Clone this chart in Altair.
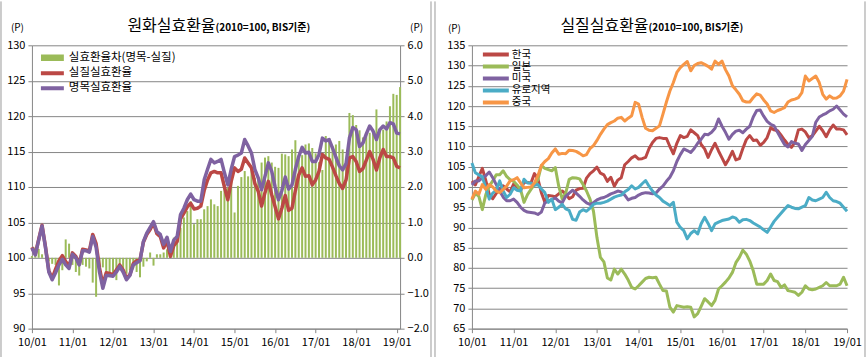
import altair as alt
import pandas as pd

FONT = "Noto Sans CJK KR"
RED, GREEN, PURPLE, TEAL, ORANGE = "#BB4845", "#9BBB59", "#7F62A1", "#4BACC6", "#F79646"
FRAME = "#9A9A9A"

left_title = ["원화실효환율", "(2010=100, BIS기준)"]
right_title = ["실질실효환율", "(2010=100, BIS기준)"]
bar_name = "실효환율차(명목-실질)"
left_series = ["실질실효환율", "명목실효환율"]
right_series = ["한국", "일본", "미국", "유로지역", "중국"]

years = list(range(2010, 2020))
months = [f"{y % 100:02d}/{m:02d}" for y in years for m in range(1, 13)]
left_months = months[:110]
right_months = months[:109]
year_ticks = [f"{y % 100:02d}/01" for y in years]
left_y_ticks = [90, 95, 100, 105, 110, 115, 120, 125, 130]
bar_ticks = [-2, -1, 0, 1, 2, 3, 4, 5, 6]
right_y_ticks = [65, 70, 75, 80, 85, 90, 95, 100, 105, 110, 115, 120, 125, 130, 135]

nominal = [
    101.4, 100.4, 102.5, 104.5, 101.5, 98.0, 96.9, 97.9, 99.0, 99.8, 99.0, 98.5,
    100.5, 100.0, 99.0, 101.0, 101.0, 100.8, 103.0, 101.5, 98.0, 95.7, 97.5, 97.5,
    97.4, 98.0, 98.8, 98.0, 96.9, 97.5, 99.0, 99.3, 99.6, 102.3, 103.5, 104.3,
    105.1, 103.7, 103.3, 101.9, 102.9, 100.9, 102.5, 103.0, 106.1, 107.0, 108.2, 109.0,
    108.2, 108.0, 108.0, 111.0, 112.5, 113.9, 113.4, 113.6, 113.9, 112.0, 110.3, 112.5,
    114.3, 114.5, 114.8, 116.7, 115.8, 114.8, 112.5, 111.3, 109.6, 111.5, 113.4, 112.2,
    110.0, 108.2, 109.5, 111.4, 109.7, 110.3, 112.5, 114.3, 115.6, 114.8, 114.9, 113.6,
    113.6, 114.6, 116.9, 116.5, 116.7, 115.5, 114.2, 113.0, 112.4, 113.3, 116.9, 118.4,
    118.1, 115.7, 116.2, 117.5, 118.6, 117.9, 116.7, 118.1, 118.6, 118.2, 119.1, 118.9,
    117.6, 117.5,
]
real = [
    101.5, 100.5, 102.6, 104.6, 101.6, 98.2, 97.1, 98.4, 99.6, 100.3, 99.5, 98.8,
    100.7, 100.2, 99.1, 101.2, 101.1, 101.0, 103.3, 102.0, 98.6, 96.2, 97.9, 97.8,
    97.6, 98.3, 99.0, 98.3, 97.1, 97.6, 99.2, 99.6, 99.7, 102.2, 103.3, 104.0,
    104.9, 103.4, 103.0, 101.4, 102.4, 100.2, 101.7, 102.3, 105.5, 106.3, 107.2, 107.7,
    106.9, 107.0, 107.3, 109.5, 111.0, 112.0, 112.2, 112.0, 112.0, 110.0, 108.2, 110.8,
    112.7, 112.2, 112.5, 114.1, 113.4, 112.7, 110.5, 109.4, 107.3, 109.2, 110.8, 108.9,
    107.2, 105.5, 107.0, 108.8, 106.7, 107.0, 109.5, 111.7, 112.7, 111.5, 111.6, 110.3,
    111.0, 112.2, 114.6, 114.1, 113.9, 112.8, 111.6, 110.5, 109.8, 111.0, 114.1, 114.3,
    113.6, 112.2, 112.6, 113.8, 115.0, 113.9, 112.4, 114.1, 115.3, 114.3, 114.3, 114.1,
    112.9, 112.7,
]
gap = [
    0.05, 0.3, 0.25, 0.1, 0.0, -0.1, -0.17, -0.2, -0.78, -0.35, 0.52, 0.4,
    -0.2, -0.4, -0.5, -0.2, -0.25, -0.3, -0.7, -1.1, -0.45, -0.27, -0.5, -0.55,
    -0.54, -0.63, -0.35, -0.3, -0.45, -0.35, -0.3, -0.4, -0.55, -0.25, -0.1, 0.15,
    -0.22, 0.1, 0.1, 0.15, 0.24, 0.34, 0.57, 0.57, 0.85, 1.14, 1.32, 1.6,
    0.95, 1.09, 1.09, 1.37, 1.46, 1.65, 1.51, 1.46, 1.89, 2.08, 1.98, 2.26,
    1.28, 2.03, 2.28, 2.45, 2.3, 2.5, 2.26, 2.2, 2.69, 2.83, 2.87, 2.69,
    2.57, 2.54, 2.94, 2.92, 2.87, 3.06, 3.32, 2.9, 2.9, 3.2, 3.23, 3.1,
    2.95, 2.7, 2.48, 3.44, 3.3, 3.15, 3.2, 3.3, 3.06, 2.7, 4.09, 4.03,
    3.75, 3.6, 3.4, 3.55, 3.53, 3.6, 4.19, 3.55, 3.62, 3.85, 4.28, 4.63,
    4.6, 4.82,
]

korea = real[:109]
japan = [
    96.8, 98.4, 97.7, 94.4, 98.1, 100.2, 101.5, 103.0, 103.0, 104.0, 102.6, 101.8,
    101.4, 100.5, 99.4, 96.2, 98.1, 99.4, 100.6, 101.8, 105.3, 104.6, 104.3, 104.0,
    104.8, 100.2, 97.0, 98.5, 101.9, 102.3, 102.2, 102.0, 100.6, 99.0, 97.0, 94.0,
    87.5, 82.6, 81.5, 77.5, 77.0, 79.7, 78.5, 79.7, 78.5, 77.0, 75.2, 74.8,
    75.6, 76.5, 77.4, 77.7, 77.6, 77.7, 76.0, 74.4, 74.3, 70.3, 69.1, 70.7,
    70.5, 70.3, 70.4, 70.3, 67.9, 68.7, 70.5, 72.4, 71.6, 70.7, 72.0, 74.8,
    75.6, 76.5, 77.5, 78.9, 81.3, 82.6, 84.4, 83.4, 81.7, 79.3, 76.0, 76.0,
    76.0, 76.9, 78.5, 76.9, 76.6, 75.2, 75.8, 74.4, 74.2, 74.0, 73.2, 74.0,
    75.6, 74.8, 74.6, 74.8, 75.2, 75.6, 76.4, 75.6, 75.6, 75.6, 76.0, 77.7,
    75.6,
]
usa = [
    100.5, 101.5, 101.5, 102.3, 102.8, 103.7, 102.3, 100.6, 99.0, 97.5, 96.6, 96.6,
    97.0, 96.2, 95.0, 94.2, 93.8, 93.7, 93.6, 93.2, 93.8, 96.1, 96.5, 96.9,
    97.3, 96.5, 96.1, 97.7, 98.5, 99.2, 98.5, 97.7, 96.8, 96.1, 95.7, 96.1,
    96.8, 97.2, 97.4, 97.8, 98.3, 98.6, 99.0, 98.8, 98.0, 96.8, 97.2, 97.4,
    98.0, 98.4, 98.6, 98.5, 98.3, 98.5, 99.5, 100.2, 101.4, 102.4, 104.0, 106.3,
    108.0, 109.4, 109.0, 108.5, 109.5, 110.8, 111.8, 113.0, 112.9, 113.5, 114.5, 116.8,
    115.0, 113.5, 111.8, 113.0, 113.8, 114.0, 113.4, 114.3, 115.0, 117.3, 118.9, 119.0,
    117.5, 116.2, 115.5, 115.1, 113.5, 112.0, 110.5, 109.9, 111.2, 110.8, 110.6, 109.0,
    110.5, 111.5, 112.5, 116.0, 117.3, 117.8, 118.2, 118.8, 119.2, 120.0, 119.0, 118.0,
    117.3,
]
euro = [
    105.9, 103.5, 103.0, 102.5, 99.8, 97.0, 98.5, 99.2, 101.5, 99.0, 97.4, 98.2,
    99.8, 99.2, 99.0, 101.9, 101.0, 101.0, 100.4, 100.6, 99.5, 98.6, 96.2, 97.0,
    94.4, 95.0, 95.7, 94.6, 94.2, 92.0, 91.8, 93.8, 94.4, 94.0, 94.8, 95.7,
    96.0, 96.0, 96.2, 96.5, 97.0, 97.5, 97.8, 98.0, 98.8, 99.4, 100.3, 99.5,
    99.9, 100.8, 101.6, 100.2, 99.0, 98.0, 97.4, 96.5, 96.0, 95.4, 96.2, 91.3,
    90.0, 89.2, 87.2, 88.5, 89.2, 88.4, 90.9, 92.5, 91.0, 89.2, 90.9, 91.3,
    91.7, 91.9, 92.1, 92.6, 92.3, 91.3, 91.9, 92.0, 91.7, 91.1, 90.6, 90.1,
    89.4, 88.8, 90.1, 91.5, 92.5, 93.5, 94.5, 95.4, 95.0, 94.7, 94.6, 95.0,
    95.4, 97.4, 96.8, 96.6, 97.0, 97.4, 98.7, 97.4, 96.6, 96.4, 96.0, 95.0,
    94.0,
]
china = [
    97.0, 99.0, 98.2, 100.6, 99.4, 100.6, 100.0, 99.0, 98.6, 99.4, 100.2, 101.5,
    101.8, 102.3, 101.0, 99.8, 99.9, 100.0, 101.0, 102.8, 105.3, 106.3, 107.0, 108.4,
    109.4, 108.1, 108.3, 108.2, 109.1, 109.0, 108.8, 108.3, 107.7, 108.0, 109.5, 110.2,
    111.5, 113.0, 114.3, 115.4, 115.9, 116.3, 117.0, 117.2, 116.3, 117.0, 117.6, 120.9,
    120.5, 117.2, 114.5, 114.0, 113.9, 114.5, 115.1, 118.0, 121.0, 123.7, 125.8, 128.3,
    129.5, 130.3, 131.0, 128.7, 130.0, 130.5, 130.7, 130.3, 129.8, 129.1, 131.1, 130.3,
    131.1, 129.0, 127.4, 125.0, 124.0, 122.9, 121.3, 121.0, 121.0, 122.1, 123.0, 122.7,
    121.5, 120.5, 118.8, 118.4, 118.9, 119.2, 119.6, 121.0, 121.5, 121.7, 122.1, 123.3,
    127.4, 126.2, 126.8, 127.4, 125.8, 122.9, 121.7, 122.5, 121.9, 122.0, 122.5, 123.7,
    126.6,
]

# ---------- tables ----------
df_bar = pd.DataFrame({"month": left_months, "gap": gap, "kind": bar_name})
df_left = pd.DataFrame({
    "month": left_months * 2,
    "value": real + nominal,
    "series": [left_series[0]] * len(real) + [left_series[1]] * len(nominal),
})
right_values = [korea, japan, usa, euro, china]
df_right = pd.DataFrame({
    "month": right_months * len(right_series),
    "value": [v for s in right_values for v in s],
    "series": [name for name, s in zip(right_series, right_values) for _ in s],
})

W_L, W_R, H = 369, 376, 284
TOP, BOTTOM = 44, 29      # space above / below plot area inside the frame
GRID = "#868686"


def x_enc(domain):
    return alt.X(
        "month:O", sort=domain,
        scale=alt.Scale(type="point", padding=0, domain=domain),
        axis=alt.Axis(values=year_ticks, title=None, labelAngle=0, tickSize=4,
                      labelPadding=4, grid=False, labelFontSize=11),
    )


def title_layer(parts, split):
    big = alt.Chart(pd.DataFrame({"t": [parts[0]]})).mark_text(
        align="right", baseline="alphabetic", fontSize=16, font=FONT, color="#000"
    ).encode(text="t:N", x=alt.value(split), y=alt.value(-14))
    small = alt.Chart(pd.DataFrame({"t": [parts[1]]})).mark_text(
        align="left", baseline="alphabetic", fontSize=10, font=FONT, color="#000",
        fontWeight="bold"
    ).encode(text="t:N", x=alt.value(split), y=alt.value(-14))
    return big, small


def frame_line(xpos):
    return alt.Chart(pd.DataFrame({"f": [0]})).mark_rule(
        color=FRAME, strokeWidth=1
    ).encode(x=alt.value(xpos), y=alt.value(-TOP), y2=alt.value(H + BOTTOM))


bars = alt.Chart(df_bar).mark_bar(size=2).encode(
    x=x_enc(left_months),
    y=alt.Y("gap:Q", scale=alt.Scale(domain=[-2, 6], nice=False),
            axis=alt.Axis(orient="right", values=bar_ticks, format=".1f", grid=False,
                          tickSize=4, labelPadding=3,
                          title="(P)", titleAngle=0, titleX=16, titleY=-18,
                          titleAlign="center", titleBaseline="middle")),
    fill=alt.Fill("kind:N", scale=alt.Scale(domain=[bar_name], range=[GREEN]),
                  legend=alt.Legend(orient="none", legendX=9, legendY=6, title=None,
                                    symbolType="M-1,-0.28H1V0.28H-1Z", symbolSize=529,
                                    symbolStrokeWidth=0, clipHeight=13, labelFontSize=11.5,
                                    labelOffset=5, padding=0)),
)

left_lines = alt.Chart(df_left).mark_line(strokeWidth=3.5, strokeJoin="round").encode(
    x=x_enc(left_months),
    y=alt.Y("value:Q", scale=alt.Scale(domain=[90, 130], nice=False),
            axis=alt.Axis(orient="left", values=left_y_ticks, grid=True, tickSize=4,
                          labelPadding=3,
                          title="(P)", titleAngle=0, titleX=-15, titleY=-18,
                          titleAlign="center", titleBaseline="middle")),
    stroke=alt.Stroke("series:N",
                      scale=alt.Scale(domain=left_series, range=[RED, PURPLE]),
                      legend=alt.Legend(orient="none", legendX=7, legendY=21.5, title=None,
                                        symbolType="stroke", symbolSize=529,
                                        symbolStrokeWidth=4, clipHeight=13, rowPadding=2,
                                        labelFontSize=11.5, labelOffset=3, padding=0)),
)

lt1, lt2 = title_layer(left_title, 184)
left = alt.layer(
    bars, left_lines, lt1, lt2, frame_line(-31), frame_line(400)
).resolve_scale(y="independent").properties(width=W_L, height=H)

right_lines = alt.Chart(df_right).mark_line(strokeWidth=3, strokeJoin="round").encode(
    x=x_enc(right_months),
    y=alt.Y("value:Q", scale=alt.Scale(domain=[65, 135], nice=False),
            axis=alt.Axis(orient="left", values=right_y_ticks, grid=True, tickSize=4,
                          labelPadding=3,
                          title="(P)", titleAngle=0, titleX=-18, titleY=-17,
                          titleAlign="center", titleBaseline="middle")),
    stroke=alt.Stroke("series:N",
                      scale=alt.Scale(domain=right_series,
                                      range=[RED, GREEN, PURPLE, TEAL, ORANGE]),
                      legend=alt.Legend(orient="none", legendX=9, legendY=3.5, title=None,
                                        symbolType="stroke", symbolSize=676,
                                        symbolStrokeWidth=4, clipHeight=11.5, rowPadding=0,
                                        labelFontSize=10.5, labelOffset=1, padding=0)),
)
rt1, rt2 = title_layer(right_title, 177)
right = alt.layer(
    right_lines, rt1, rt2, frame_line(-37), frame_line(394)
).properties(width=W_R, height=H)

chart = alt.hconcat(left, right, spacing=2).resolve_scale(
    x="independent", y="independent", stroke="independent", fill="independent"
).resolve_legend(stroke="independent", fill="independent").properties(
    padding={"left": 0, "top": 0, "right": 0, "bottom": 0},
    background="white",
).configure_view(stroke=None).configure_axis(
    labelFont=FONT, labelFontSize=11, labelColor="#000", domainColor=GRID,
    tickColor=GRID, gridColor=GRID, titleFont=FONT, titleFontSize=10,
    titleFontWeight="normal", titleColor="#000",
).configure_legend(labelFont=FONT, labelColor="#000")

chart.save("out.html", embed_options={"renderer": "svg", "actions": False})
